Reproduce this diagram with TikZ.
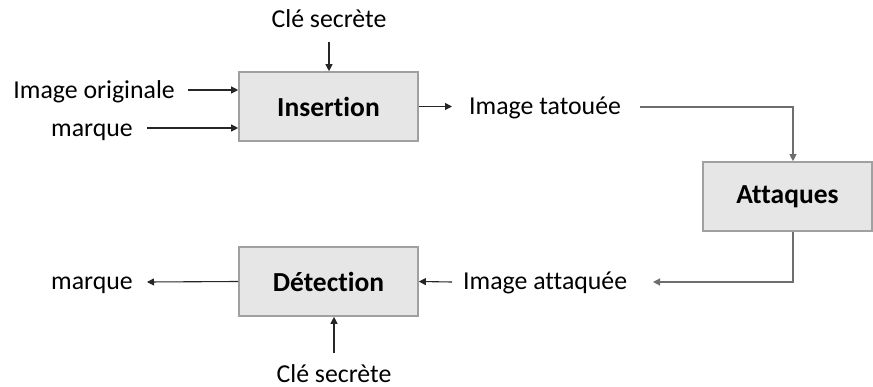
\documentclass[tikz,border=0pt]{standalone}
\usepackage{fontspec}
\setmainfont{Carlito}[Ligatures=NoCommon]
\usetikzlibrary{arrows.meta}
\definecolor{boxfill}{HTML}{E7E6E6}
\definecolor{boxborder}{HTML}{A0A0A0}
\definecolor{arrowcol}{HTML}{262626}
\definecolor{linecol}{HTML}{6E6E6E}
\begin{document}
\begin{tikzpicture}[x=1pt,y=-1pt,
  box/.style={draw=boxborder, line width=1.6pt, fill=boxfill, minimum width=179pt, minimum height=69pt, inner sep=0pt, font=\fontsize{27.5}{30}\selectfont\bfseries},
  lbl/.style={inner sep=0pt, font=\fontsize{25.8}{30}\selectfont},
  arr/.style={draw=arrowcol, line width=1.1pt, -{Triangle[length=7pt,width=7pt]}},
  garr/.style={draw=linecol, line width=1.1pt, -{Triangle[length=7pt,width=7pt]}}]
\useasboundingbox (0,0) rectangle (873,387);
% boxes
\node[box] (ins) at (328.5,106.5) {Insertion};
\node[box] (det) at (328.5,281.5) {Détection};
\node[box, minimum width=169pt] (att) at (787.5,196.5) {Attaques};
% labels
\node[lbl, anchor=base] (ck1) at (329,28) {Clé secrète};
\node[lbl, anchor=base east] (orig) at (175,99) {Image originale};
\node[lbl, anchor=base west] (m1) at (51,137) {marque};
\node[lbl, anchor=base west] (tat) at (469,115) {Image tatouée};
\node[lbl, anchor=base west] (atq) at (463,290) {Image attaquée};
\node[lbl, anchor=base west] (m2) at (51,290) {marque};
\node[lbl, anchor=base] (ck2) at (334,382) {Clé secrète};
% free ends
\coordinate (ck1s) at (329,42);
\coordinate (origs) at (188,90);
\coordinate (m1s) at (147,128);
\coordinate (inse) at (452,106.5);
\coordinate (tats) at (640,107);
\coordinate (attc) at (793,107);
\coordinate (attb) at (793,282);
\coordinate (atqe) at (653,282);
\coordinate (dete) at (452,282);
\coordinate (m2e) at (147,282);
\coordinate (ck2s) at (334,353);
% connectors
\draw[arr] (ck1s) -- (ck1s |- ins.north);
\draw[arr] (origs) -- (origs -| ins.west);
\draw[arr] (m1s) -- (m1s -| ins.west);
\draw[arr] (ins.east) -- (inse);
\draw[garr] (tats) -- (attc) -- (attc |- att.north);
\draw[garr] (attc |- att.south) -- (attb) -- (atqe);
\draw[arr] (dete) -- (det.east);
\draw[arr] (det.west) -- (m2e);
\draw[arr] (ck2s) -- (ck2s |- det.south);
\end{tikzpicture}
\end{document}
